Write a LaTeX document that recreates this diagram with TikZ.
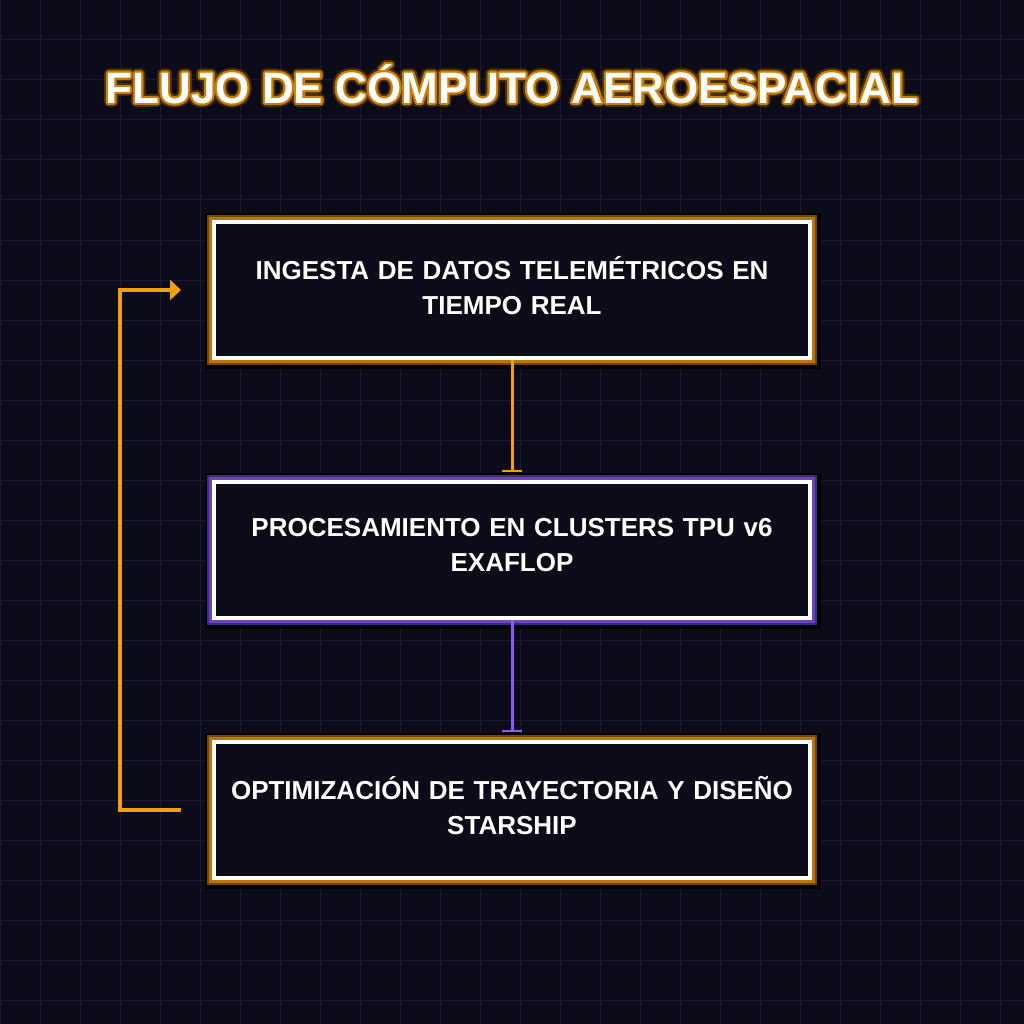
\documentclass[tikz,border=0pt]{standalone}
\usepackage{fontspec}
\setmainfont{Liberation Sans}
\usetikzlibrary{arrows.meta}
\definecolor{bg}{HTML}{0B0B1A}
\definecolor{gridc}{HTML}{1A1A30}
\definecolor{orng}{HTML}{F59E0B}
\definecolor{orglowA}{HTML}{B8760A}
\definecolor{orglowB}{HTML}{6E4706}
\definecolor{purp}{HTML}{8B5CF6}
\definecolor{puglowA}{HTML}{6A45BE}
\definecolor{puglowB}{HTML}{3E2A78}
\definecolor{ttlA}{HTML}{C97E08}
\definecolor{ttlB}{HTML}{4A3002}
\tikzset{
  boxbase/.style={draw=white, line width=4pt, fill=bg, minimum width=596pt, minimum height=136pt,
    outer sep=0pt, inner sep=0pt, text=white, align=center, text width=590pt,
    font=\fontsize{26}{35}\selectfont\bfseries},
  orbox/.style={boxbase,
    preaction={draw=black, line width=20pt, transform canvas={shift={(1pt,-1pt)}}},
    preaction={draw=orglowB, line width=14pt},
    preaction={draw=orglowA, line width=10pt}},
  pubox/.style={boxbase,
    preaction={draw=black, line width=20pt, transform canvas={shift={(1pt,-1pt)}}},
    preaction={draw=puglowB, line width=14pt},
    preaction={draw=puglowA, line width=10pt}},
  flowor/.style={draw=orng, line width=3pt, -{Bar[width=20pt,line width=2pt]}},
  flowpu/.style={draw=purp, line width=3pt, -{Bar[width=20pt,line width=2pt]}},
  loopline/.style={draw=orng, line width=4pt, -{Triangle[length=11pt,width=20pt]}},
  ttl/.style={font=\fontsize{44}{50}\selectfont\bfseries, inner sep=0pt}
}
\begin{document}
\begin{tikzpicture}[x=1pt,y=-1pt]
\fill[bg] (0,0) rectangle (1024,1024);
\useasboundingbox (0,0) rectangle (1024,1024);
\foreach \g in {0,40,...,1000}{
  \draw[gridc, line width=1pt] (\g,0) -- (\g,1024);
  \draw[gridc, line width=1pt] (0,\g) -- (1024,\g);
}
% title glow
\foreach \a in {0,22.5,...,359}{
  \path (512,84) ++(\a:4) node[ttl, text=ttlB] {FLUJO DE CÓMPUTO AEROESPACIAL};
}
\foreach \a in {0,30,...,359}{
  \path (512,84) ++(\a:2.2) node[ttl, text=ttlA] {FLUJO DE CÓMPUTO AEROESPACIAL};
}
\node[ttl, text=white] (title) at (512,84) {FLUJO DE CÓMPUTO AEROESPACIAL};

\node[orbox] (n1) at (512,290) {INGESTA DE DATOS TELEMÉTRICOS EN\\TIEMPO REAL\par\vspace{9pt}};
\node[pubox] (n2) at (512,550) {PROCESAMIENTO EN CLUSTERS TPU v6\\EXAFLOP\par\vspace{9pt}};
\node[orbox] (n3) at (512,810) {OPTIMIZACIÓN DE TRAYECTORIA Y DISEÑO\\STARSHIP\par\vspace{9pt}};

\draw[flowor, shorten <=2pt, shorten >=10pt] (n1.south) -- (n2.north);
\draw[flowpu, shorten <=2pt, shorten >=10pt] (n2.south) -- (n3.north);

\coordinate (lstart) at ([xshift=-33pt]n3.west);
\coordinate (lend) at ([xshift=-33pt]n1.west);
\draw[loopline] (lstart) -- ++(-61,0) |- (lend);
\end{tikzpicture}
\end{document}
